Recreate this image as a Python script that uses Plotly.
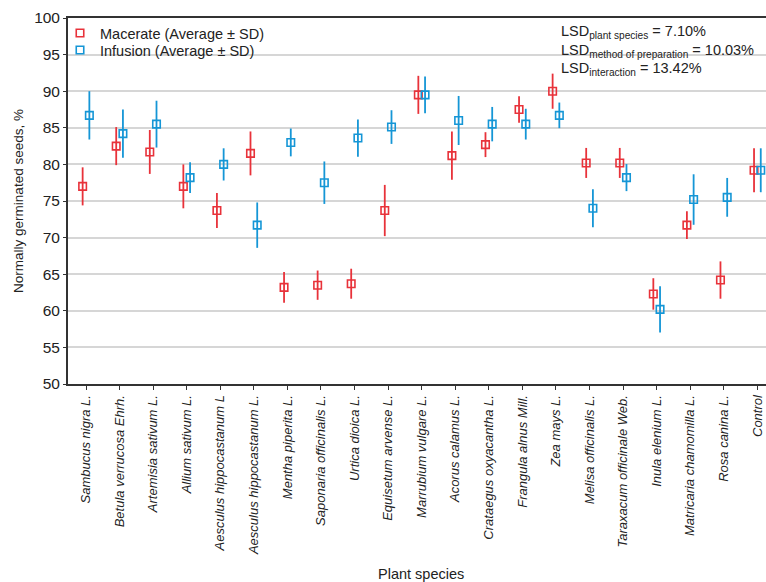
import plotly.graph_objects as go

categories = [
    "Sambucus nigra L.", "Betula verrucosa Ehrh.", "Artemisia sativum L.", "Allium sativum L.",
    "Aesculus hippocastanum L", "Aesculus hippocastanum L.", "Mentha piperita L.",
    "Saponaria officinalis L.", "Urtica dioica L.", "Equisetum arvense L.", "Marrubium vulgare L.",
    "Acorus calamus L.", "Crataegus oxyacantha L.", "Frangula alnus Mill.", "Zea mays L.",
    "Melisa officinalis L.", "Taraxacum officinale Web.", "Inula elenium L.",
    "Matricaria chamomilla L.", "Rosa canina L.", "Control",
]
macerate = [77.0, 82.5, 81.7, 77.0, 73.7, 81.5, 63.2, 63.5, 63.7, 73.7, 89.5,
            81.2, 82.7, 87.5, 90.0, 80.2, 80.2, 62.3, 71.7, 64.2, 79.2]
macerate_sd = [2.6, 2.6, 3.0, 3.0, 2.4, 3.0, 2.1, 2.0, 2.05, 3.5, 2.6,
               3.3, 1.7, 1.8, 2.4, 2.05, 2.05, 2.15, 1.9, 2.55, 3.0]
infusion = [86.7, 84.2, 85.5, 78.2, 80.0, 71.7, 83.0, 77.5, 83.6, 85.1, 89.5,
            86.0, 85.5, 85.5, 86.7, 74.0, 78.2, 60.2, 75.2, 75.5, 79.2]
infusion_sd = [3.3, 3.3, 3.2, 2.1, 2.2, 3.1, 1.9, 2.9, 2.55, 2.3, 2.5,
               3.35, 2.35, 2.1, 1.75, 2.6, 1.85, 3.15, 3.45, 2.65, 3.0]
y_ticks = [50, 55, 60, 65, 70, 75, 80, 85, 90, 95, 100]
lsd_lines = [("plant species", "7.10%"), ("method of preparation", "10.03%"), ("interaction", "13.42%")]

RED = "#e8323a"
BLUE = "#1596d6"
FONT = "Liberation Sans, Arial, sans-serif"
TXT = "#222222"

idx = list(range(len(categories)))
off = 0.1

W, H = 766, 582
L, R, T = 68, 0, 18
B = H - 384
plot_w = W - L - R
ph = H - T - B
spacing = 33.57
x0 = -18 / spacing
x1 = x0 + plot_w / spacing


def px_x(p):
    return (p - L) / plot_w


def px_y(p):
    return 1 - (p - T) / ph


fig = go.Figure()
fig.add_trace(go.Scatter(
    x=[i - off for i in idx], y=macerate, mode="markers", name="Macerate (Average ± SD)",
    marker=dict(symbol="square-open", size=7.5, color=RED, line=dict(width=1.6, color=RED)),
    error_y=dict(type="data", array=macerate_sd, color=RED, thickness=1.8, width=0),
    legend="legend",
))
fig.add_trace(go.Scatter(
    x=[i + off for i in idx], y=infusion, mode="markers", name="Infusion (Average ± SD)",
    marker=dict(symbol="square-open", size=7.5, color=BLUE, line=dict(width=1.6, color=BLUE)),
    error_y=dict(type="data", array=infusion_sd, color=BLUE, thickness=1.8, width=0),
    legend="legend2",
))

leg_common = dict(xanchor="left", yanchor="middle", bgcolor="rgba(0,0,0,0)",
                  font=dict(size=14.5, color=TXT, family=FONT), itemwidth=30,
                  borderwidth=0)

fig.update_layout(
    width=W, height=H,
    margin=dict(l=L, r=R, t=T, b=B, pad=0, autoexpand=False),
    paper_bgcolor="white", plot_bgcolor="white",
    font=dict(family=FONT, color=TXT),
    showlegend=True,
    legend=dict(x=px_x(60), y=px_y(33), **leg_common),
    legend2=dict(x=px_x(60), y=px_y(50), **leg_common),
    xaxis=dict(
        range=[x0, x1], tickmode="array", tickvals=idx, ticktext=categories,
        tickangle=-90, tickfont=dict(size=13, style="italic", color=TXT, family=FONT),
        ticks="outside", ticklen=4, tickwidth=1.2, tickcolor="#333",
        showline=True, linecolor="#333", linewidth=1.8, mirror=True,
        showgrid=False, zeroline=False, automargin=False,
    ),
    xaxis2=dict(
        overlaying="x", matches="x", anchor="y", side="top",
        tickmode="array", tickvals=idx, ticks="inside", ticklen=4, tickwidth=1.2,
        tickcolor="#333", showticklabels=False, showgrid=False, zeroline=False,
        showline=False, automargin=False,
    ),
    yaxis=dict(
        range=[50, 100], tickmode="array", tickvals=y_ticks,
        tickfont=dict(size=15.5, color=TXT), ticks="outside", ticklen=3, tickcolor="#333",
        showline=True, linecolor="#333", linewidth=1.8,
        showgrid=True, gridcolor="#d6d6d6", gridwidth=1.5, zeroline=False, automargin=False,
        title=dict(text="Normally germinated seeds, %", font=dict(size=13.5, color=TXT), standoff=7),
    ),
)

# x-axis title centred on the full (cropped) plot area
fig.add_annotation(
    text="Plant species", xref="paper", yref="paper",
    x=px_x(421), y=px_y(574),
    xanchor="center", yanchor="middle", showarrow=False,
    font=dict(size=14.5, color=TXT, family=FONT),
)

for k, (sub, val) in enumerate(lsd_lines):
    top_px = 21.5 + k * 18.4
    fig.add_annotation(
        text=f"LSD<sub>{sub}</sub> = {val}", xref="paper", yref="paper",
        x=px_x(559), y=px_y(top_px),
        xanchor="left", yanchor="top", showarrow=False, align="left",
        font=dict(size=14.5, color=TXT, family=FONT),
    )

fig.write_html(
    "out.html",
    config={"displayModeBar": False},
    post_script="document.body.style.margin='0';document.body.style.overflow='hidden';",
)
